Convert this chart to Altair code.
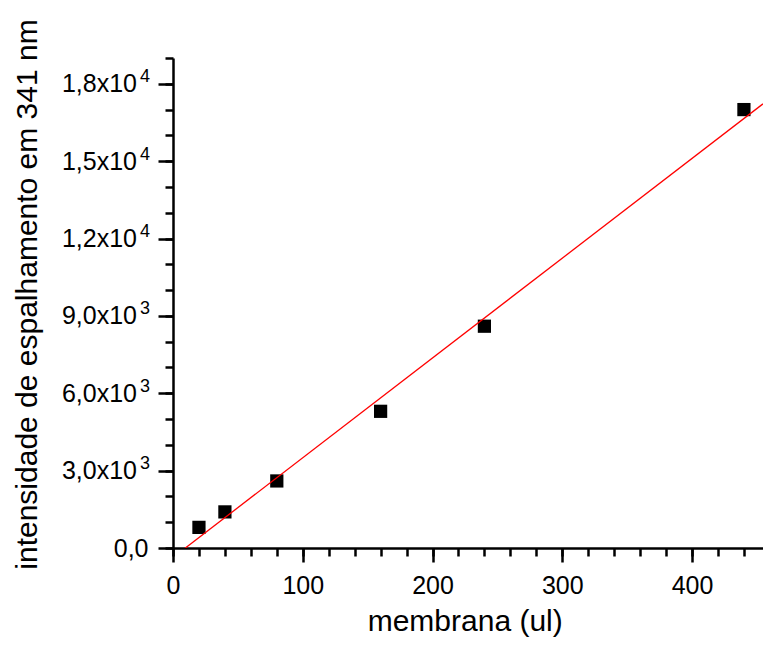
import altair as alt
import pandas as pd

# data
membrana = [20, 40, 80, 160, 240, 440]
intensidade = [800, 1400, 2600, 5300, 8600, 17000]

x_major = [0, 100, 200, 300, 400]
x_minor = list(range(0, 455, 20))
y_major = [0, 3000, 6000, 9000, 12000, 15000, 18000]
y_mantissa = ["0,0", "3,0x10", "6,0x10", "9,0x10", "1,2x10", "1,5x10", "1,8x10"]
y_exponent = ["", "3", "3", "3", "4", "4", "4"]
y_minor = list(range(0, 19001, 1000))

X_MAX = 454.7
Y_MAX = 19000

df = pd.DataFrame({"x": membrana, "y": intensidade})

FONT = "Liberation Sans"


def expr_from(values, labels):
    e = ""
    for v, lab in zip(values, labels):
        e += f"datum.value == {v} ? '{lab}' : "
    return e + "''"


xscale = alt.Scale(domain=[0, X_MAX], nice=False, zero=False)
yscale = alt.Scale(domain=[0, Y_MAX], nice=False, zero=False)

points = alt.Chart(df).mark_square(size=175, color="black", opacity=1, filled=True).encode(
    x=alt.X("x:Q", scale=xscale,
            axis=alt.Axis(values=x_major, tickSize=14, tickWidth=2.5, domainWidth=2.5,
                          domainColor="black", tickColor="black", grid=False,
                          labelFont=FONT, labelFontSize=25, labelColor="black",
                          labelBaseline="alphabetic", labelPadding=31, labelFlush=False,
                          title="membrana (ul)", titleFont=FONT, titleFontSize=30,
                          titleFontWeight="normal", titleColor="black",
                          titleX=291.7, titleY=82.5, titleBaseline="alphabetic",
                          titleAlign="center", orient="bottom")),
    y=alt.Y("y:Q", scale=yscale,
            axis=alt.Axis(values=y_major, labelExpr=expr_from(y_major[:1], y_mantissa[:1]),
                          tickSize=15, tickWidth=2.5,
                          domainWidth=2.5, domainColor="black", tickColor="black", grid=False,
                          labelFont=FONT, labelFontSize=25, labelColor="black",
                          labelPadding=10, labelFlush=False, labelBaseline="middle",
                          title="intensidade de espalhamento em 341 nm", titleFont=FONT,
                          titleFontSize=30, titleFontWeight="normal", titleColor="black",
                          titleAngle=270, titleX=-136.6, titleY=236,
                          titleBaseline="alphabetic", titleAlign="center", orient="left")),
)

fit = alt.Chart(df).transform_regression("x", "y", extent=[0, X_MAX]).mark_line(
    color="#ff0000", strokeWidth=1.3, clip=True
).encode(
    x=alt.X("x:Q", scale=xscale,
            axis=alt.Axis(values=x_minor, tickSize=8, tickWidth=2.5, tickColor="black",
                          domain=False, labels=False, grid=False, title="", orient="bottom")),
    y=alt.Y("y:Q", scale=yscale,
            axis=alt.Axis(values=y_minor, tickSize=8, tickWidth=2.5, tickColor="black",
                          domain=False, labels=False, grid=False, title="", orient="left")),
)

mantissa = alt.Chart(df).mark_square(opacity=0).encode(
    x=alt.X("x:Q", scale=xscale, axis=None),
    y=alt.Y("y:Q", scale=yscale,
            axis=alt.Axis(values=y_major[1:], labelExpr=expr_from(y_major, y_mantissa),
                          tickSize=15, tickOpacity=0, domain=False, grid=False,
                          labelFont=FONT, labelFontSize=25, labelColor="black",
                          labelPadding=21.5, labelFlush=False, labelBaseline="middle",
                          title="", orient="left")),
)

exponent = alt.Chart(df).mark_square(opacity=0).encode(
    x=alt.X("x:Q", scale=xscale, axis=None),
    y=alt.Y("y:Q", scale=yscale,
            axis=alt.Axis(values=y_major[1:], labelExpr=expr_from(y_major, y_exponent),
                          tickSize=15, tickOpacity=0, domain=False, grid=False,
                          labelFont=FONT, labelFontSize=18, labelColor="black",
                          labelPadding=8.5, labelFlush=False, labelBaseline="alphabetic",
                          labelOffset=-2, title="", orient="left")),
)

chart = alt.layer(points, fit, mantissa, exponent).resolve_axis(
    x="independent", y="independent"
).properties(
    width=590, height=490,
    autosize=alt.AutoSizeParams(type="none"),
    padding={"left": 165, "top": 50, "right": 0, "bottom": 90},
    background="white",
).configure_view(strokeWidth=0)

chart.save("out.html", embed_options={"renderer": "svg", "actions": False})
